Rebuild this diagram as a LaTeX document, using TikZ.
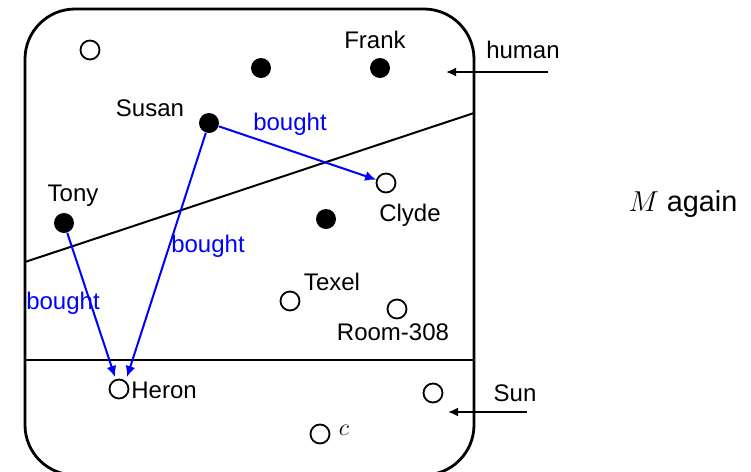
\documentclass[tikz,border=0pt]{standalone}
\usepackage{fontspec}
\setmainfont{Liberation Sans}
\usetikzlibrary{arrows.meta}
\begin{document}
\begin{tikzpicture}[x=0.5pt,y=-0.5pt, font=\fontsize{12}{14}\selectfont,
  open/.style={circle,draw,line width=0.9pt,minimum size=9.5pt,inner sep=0pt},
  full/.style={circle,fill,minimum size=10pt,inner sep=0pt},
  rel/.style={blue,line width=1pt,-{Latex[length=5.5pt,width=5pt]}},
  rellab/.style={text=blue,inner sep=0pt},
  lab/.style={inner sep=0pt},
  frame/.style={line width=1.4pt},
  ptr/.style={line width=1.4pt,-{Latex[length=5pt,width=4.5pt]}}]
\useasboundingbox (0,0) rectangle (751,472);
\clip (0,0) rectangle (751,472);
% frame
\draw[frame, rounded corners=25pt] (25,9) rectangle (474,475);
\coordinate (dl) at (25,262);
\coordinate (dr) at (474,113);
\coordinate (hl) at (25,360);
\coordinate (hr) at (474,360);
\draw[line width=1pt] (dl) -- (dr);
\draw[frame] (hl) -- (hr);
% elements
\node[open] (o1) at (90,50) {};
\node[full] (f1) at (261,68) {};
\node[full] (frank) at (380,68) {};
\node[full] (susan) at (209,123) {};
\node[full] (tony) at (64,223) {};
\node[full] (f5) at (326,219) {};
\node[open] (clyde) at (386,183) {};
\node[open] (texel) at (290,301) {};
\node[open] (room) at (397,309) {};
\node[open] (heron) at (119,389) {};
\node[open] (o6) at (433,393) {};
\node[open] (cc) at (320,434) {};
% labels
\node[lab] (lfrank) at (375,40) {Frank};
\node[lab] (lsusan) at (150,108) {Susan};
\node[lab] (ltony) at (73,196) {Tony};
\node[lab] (lclyde) at (410,215) {Clyde};
\node[lab] (ltexel) at (332,282) {Texel};
\node[lab] (lroom) at (393,332) {Room-308};
\node[lab,anchor=west] (lheron) at (131,390) {Heron};
\node[lab] (lc) at (344,430) {$c$};
% sets
\node[lab] (lhuman) at (523,50) {human};
\node[lab] (lsun) at (515,393) {Sun};
\coordinate (hs) at (548,72);
\coordinate (he) at (446,72);
\coordinate (ss) at (527,412);
\coordinate (se) at (448,412);
\draw[ptr] (hs) -- (he);
\draw[ptr] (ss) -- (se);
\node[lab,font=\fontsize{14.4}{17}\selectfont] (lM) at (683,204) {$M$ again};
% relations
\coordinate (hA) at (115,377);
\coordinate (hB) at (127,377);
\draw[rel] (susan) -- (clyde);
\draw[rel] (tony) -- (hA);
\draw[rel] (susan) -- (hB);
\node[rellab] (b1) at (290,124) {bought};
\node[rellab] (b2) at (208,246) {bought};
\node[rellab] (b3) at (63,303) {bought};
\end{tikzpicture}
\end{document}
